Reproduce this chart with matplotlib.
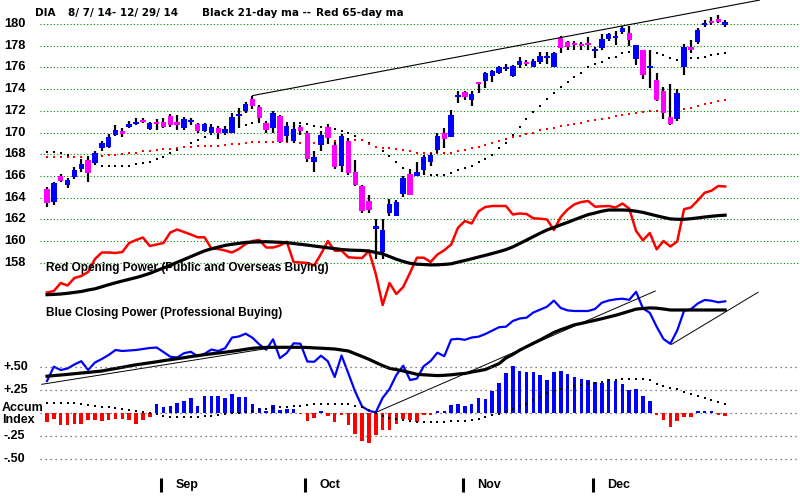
import matplotlib
matplotlib.use('Agg')
import matplotlib.pyplot as plt
import numpy as np

# ---------------- data ----------------
opens = [164.8, 163.6, 165.95, 165.2, 165.9, 166.6, 167.5, 167.2, 168.55, 168.7,
         169.8, 170.1, 170.55, 170.8, 171.15, 170.35, 170.95, 171.0, 171.5, 170.95,
         170.45, 171.05, 170.8, 170.15, 170.0, 170.45, 170.0, 169.95, 171.55, 172.0,
         173.1, 172.35, 170.85, 170.4, 171.5, 169.7, 169.2, 170.5, 170.0, 167.3,
         168.85, 170.55, 168.85, 166.9, 169.25, 166.4, 165.1, 163.7, 161.2, 159.0,
         162.6, 162.3, 164.35, 166.2, 166.0, 166.55, 167.25, 168.4, 170.0, 169.6,
         173.35, 173.7, 173.0, 174.65, 174.75, 175.2, 175.5, 175.95, 175.2, 176.2,
         176.4, 176.05, 176.5, 176.9, 176.05, 178.7, 178.3, 178.2, 178.1, 178.2,
         177.55, 177.75, 178.6, 178.8, 179.3, 179.15, 176.75, 177.6, 176.0, 174.85,
         173.85, 171.4, 171.2, 176.0, 177.85, 178.3, 179.95, 180.3, 180.5, 179.9]
closes = [163.5, 165.3, 165.5, 165.6, 166.5, 167.1, 166.3, 168.1, 169.0, 169.6,
          170.25, 169.85, 170.75, 171.0, 171.0, 170.85, 170.85, 170.55, 170.7, 170.65,
          171.2, 171.1, 170.1, 170.75, 170.5, 169.95, 170.3, 171.4, 171.65, 172.6,
          172.45, 171.3, 170.2, 171.8, 169.15, 170.6, 170.3, 170.1, 167.55, 167.7,
          169.8, 169.5, 166.85, 169.7, 166.3, 165.2, 162.8, 162.9, 161.3, 161.0,
          163.4, 163.6, 165.8, 164.25, 166.4, 167.7, 167.95, 169.7, 169.4, 171.6,
          173.4, 173.3, 173.55, 174.55, 175.45, 175.65, 176.0, 176.0, 176.15, 176.55,
          176.35, 176.6, 177.05, 176.95, 177.35, 177.75, 177.85, 178.1, 178.05, 178.1,
          177.6, 178.6, 179.1, 178.85, 179.6, 178.5, 178.1, 175.3, 176.05, 173.0,
          171.8, 170.8, 173.6, 177.85, 177.6, 179.45, 180.05, 180.05, 180.2, 180.2]
highs = [165.0, 165.4, 166.2, 165.8, 166.8, 167.4, 167.8, 168.3, 169.2, 169.9,
         170.7, 170.4, 171.1, 171.3, 171.3, 171.0, 171.2, 171.3, 171.7, 171.6,
         171.4, 171.3, 170.9, 170.9, 170.8, 170.6, 170.6, 171.8, 172.25, 172.85,
         173.4, 172.5, 171.0, 171.95, 171.6, 170.8, 170.9, 170.65, 170.1, 168.25,
         170.1, 170.8, 169.1, 169.9, 169.5, 167.5, 165.2, 164.2, 162.0, 162.0,
         163.9, 163.8, 166.0, 166.5, 167.3, 167.9, 168.1, 169.95, 170.4, 172.1,
         173.8, 173.85, 173.8, 174.7, 175.55, 175.75, 176.15, 176.3, 176.2, 177.0,
         176.7, 176.75, 177.4, 177.4, 177.45, 178.85, 178.4, 178.4, 178.3, 178.8,
         177.9, 179.1, 179.2, 179.4, 179.85, 179.85, 178.1, 177.6, 177.6, 175.5,
         174.2, 174.5, 174.0, 178.2, 178.5, 179.6, 180.4, 180.6, 180.8, 180.35]
lows = [163.1, 163.3, 165.4, 164.9, 165.7, 166.4, 165.4, 167.0, 168.3, 168.6,
        169.7, 169.6, 170.4, 170.7, 170.85, 170.2, 170.2, 170.4, 170.5, 170.25,
        170.25, 170.7, 170.0, 170.05, 169.9, 169.4, 169.8, 169.95, 170.4, 171.8,
        172.2, 171.0, 170.0, 170.0, 169.0, 169.15, 169.0, 169.8, 167.3, 166.4,
        168.3, 168.9, 166.6, 166.4, 166.1, 165.1, 162.6, 162.6, 158.3, 158.3,
        162.3, 162.3, 164.1, 164.2, 166.0, 166.1, 166.9, 168.1, 168.6, 169.6,
        172.75, 172.95, 172.4, 173.6, 174.1, 174.7, 175.4, 175.7, 175.1, 175.9,
        176.1, 176.05, 176.3, 176.3, 176.05, 177.3, 177.6, 177.6, 177.6, 177.6,
        176.9, 177.6, 178.4, 178.1, 179.1, 178.0, 176.2, 174.9, 174.1, 172.9,
        171.2, 170.7, 171.1, 175.3, 177.3, 178.2, 179.7, 179.9, 180.1, 179.75]

ma21 = [168.24, 168.2, 168.1, 167.9, 167.7, 167.5, 167.3, 167.1, 166.95, 166.92,
        166.9, 166.9, 166.92, 167.11, 167.23, 167.32, 167.57, 167.78, 168.09, 168.4,
        168.7, 169.07, 169.32, 169.62, 169.85, 170.05, 170.25, 170.42, 170.55, 170.7,
        170.85, 170.95, 171.0, 171.0, 170.95, 170.9, 170.85, 170.85, 170.8, 170.6,
        170.5, 170.4, 170.3, 170.15, 169.95, 169.7, 169.35, 169.05, 168.7, 168.3,
        167.8, 167.25, 166.75, 166.55, 166.3, 166.15, 166.1, 166.1, 166.1, 166.3,
        166.55, 166.7, 166.92, 167.3, 167.55, 167.95, 168.55, 169.0, 169.8, 170.5,
        171.25, 171.85, 172.45, 173.07, 173.68, 174.17, 174.69, 175.15, 175.52, 176.01,
        176.29, 176.53, 176.84, 176.99, 177.3, 177.45, 177.5, 177.5, 177.45, 177.36,
        177.15, 176.9, 176.69, 176.75, 176.84, 176.9, 176.99, 177.15, 177.24, 177.36]
ma65 = [167.7, 167.7, 167.7, 167.7, 167.72, 167.75, 167.78, 167.82, 167.85, 167.9,
        167.95, 168.0, 168.08, 168.15, 168.25, 168.33, 168.4, 168.46, 168.52, 168.58,
        168.64, 168.68, 168.72, 168.75, 168.78, 168.8, 168.85, 168.9, 168.98, 169.05,
        169.08, 169.1, 169.1, 169.1, 169.1, 169.1, 169.08, 169.05, 169.02, 169.05,
        169.15, 169.2, 169.25, 169.28, 169.3, 169.32, 169.3, 168.95, 168.65, 168.6,
        168.55, 168.45, 168.35, 168.25, 168.15, 168.12, 168.1, 168.1, 168.1, 168.15,
        168.25, 168.4, 168.55, 168.7, 168.86, 169.0, 169.25, 169.38, 169.55, 169.7,
        169.85, 170.0, 170.2, 170.3, 170.45, 170.58, 170.7, 170.8, 170.9, 171.02,
        171.15, 171.25, 171.37, 171.5, 171.6, 171.7, 171.78, 171.88, 172.0, 172.02,
        172.04, 172.06, 172.08, 172.15, 172.3, 172.45, 172.6, 172.75, 172.88, 173.0]

# price resistance trendline (day index, price)
price_trend_days = [30, 104]
price_trend_vals = [173.4, 182.2]

# Red Opening Power and its moving average (indicator units)
open_power = [7.5, 9, 17, 14.5, 22, 24, 28, 41, 47.5, 47.5,
              47, 48, 57, 60, 62.5, 54, 55.5, 57, 67.5, 70.5,
              68, 65.5, 62.7, 62.7, 51.5, 51, 49.5, 47.5, 51, 56,
              59, 60, 52.5, 52.5, 54.5, 58.3, 38, 37.5, 37, 34.5,
              46, 59, 49.3, 49.3, 42.7, 42.2, 42, 49, 26, -5,
              17, 6, 13, 27.3, 42.3, 42.3, 38, 45.5, 49.8, 55.5,
              72.3, 79, 76.5, 88.7, 93, 94, 94, 94, 85.5, 86.5,
              86, 81.7, 81.3, 80.5, 70, 83, 90.5, 95.7, 98, 99,
              93.3, 93.7, 94, 92.5, 96.5, 91.4, 69, 59.7, 67, 50.7,
              59, 53.5, 58.5, 90.8, 92.5, 99.5, 107.2, 109.3, 114, 113.5]
open_power_ma = [5.3, 5.6, 6, 6.7, 7.6, 8.5, 10, 11.2, 13.2, 15.3,
                 17.2, 19, 20.7, 22.4, 24.4, 26.6, 29.4, 32, 34.8, 37.7,
                 40.5, 43.4, 46.3, 49.1, 51.2, 52.9, 54.6, 55.7, 56.6, 57.6,
                 57.9, 58.1, 58.3, 58, 57.7, 57.3, 56.5, 55.7, 54.9, 54,
                 53.1, 52.2, 51.4, 50.5, 50, 49.7, 49.5, 49, 47.5, 46.1,
                 43.5, 40.8, 38.5, 36.7, 35.8, 35.5, 35.1, 35.2, 35.6, 36.2,
                 37.9, 39.5, 41.2, 43, 44.7, 46.5, 48.4, 50.4, 53.1, 56.5,
                 59.9, 63.4, 66.8, 70.1, 72.5, 75.2, 77.6, 80.3, 82.9, 85.4,
                 87, 88.8, 90, 90, 90, 89.7, 88.8, 87.6, 85.9, 84.2,
                 82.6, 81.1, 80.7, 80.7, 81.3, 82.1, 83, 83.7, 84.4, 84.8]

# Blue Closing Power and its moving average (indicator units)
close_power = [39, 53.3, 50, 51.5, 55.5, 58.8, 50, 57.5, 61, 65,
               70, 69, 69.5, 70, 71, 72, 72.5, 68, 63.3, 62.5,
               66.8, 68.2, 63.7, 66.2, 70.5, 69, 71.8, 82.4, 83.5, 86.3,
               82.2, 75.6, 70.3, 80.7, 61.8, 67, 76.7, 76.3, 58.5, 58.2,
               64.3, 58.7, 43, 64.5, 46.5, 28.2, 13.5, 9.2, 7.7, 22.1,
               31, 45, 54.3, 40, 41.4, 53.8, 59, 67.3, 63.8, 80.5,
               81.2, 80.2, 82.5, 83.3, 86, 89.4, 92.8, 93.3, 99, 101.5,
               102.3, 107.5, 110.4, 113.3, 119.4, 112, 109.6, 109, 109, 109,
               111, 117.3, 119.5, 120.7, 121.3, 120.2, 128.2, 111.6, 107.2, 93.3,
               81, 76.2, 89.5, 109.2, 110.8, 116.5, 120, 119.3, 117.7, 118.7]
close_power_ma = [43.8, 44.4, 45, 45.6, 46.3, 47, 47.6, 48.3, 49, 50.3,
                  51.5, 52.7, 54, 55.2, 56.2, 57.2, 58.2, 59.3, 60.3, 61.3,
                  62.3, 63.4, 64.4, 65.3, 66.2, 67, 67.8, 68.7, 69.6, 70.7,
                  71.7, 72.2, 72.6, 72.7, 72.7, 72.7, 72.7, 72.7, 72.5, 72.1,
                  71.8, 71.4, 71, 70, 69, 66.2, 63.5, 60.7, 57.5, 54.4,
                  51.7, 50.4, 49, 47.4, 45.7, 45.2, 44.8, 44.4, 44.7, 45.2,
                  46, 46.5, 48, 49.2, 50.5, 53.4, 56.4, 62, 65.6, 69.8,
                  73.3, 76.7, 80.1, 83.8, 87.5, 90.3, 92.7, 95.2, 96.6, 98.2,
                  99.7, 101.3, 103, 104.7, 106.7, 108.8, 110.9, 111.5, 112.1, 111.8,
                  111, 110, 110, 110, 110, 110, 110, 110, 110, 110]
# closing power trendlines: (start day, start value, end day, end value)
cp_trend_lines = [(-0.77, 35.7, 32.3, 71.7),
                  (47.9, 7.3, 88.8, 129.0),
                  (91.2, 75.7, 103.8, 127.7)]

# Accumulation Index and its moving average
accum = [-0.098, -0.06, -0.13, -0.13, -0.12, -0.12, -0.08, -0.08, -0.09, -0.08,
         -0.06, -0.06, -0.08, -0.12, -0.08, -0.045, 0.10, 0.065, 0.076, 0.11,
         0.13, 0.16, 0.076, 0.185, 0.19, 0.185, 0.16, 0.21, 0.17, 0.17,
         0.10, 0.054, 0.025, 0.083, 0.03, 0.04, 0.04, -0.01, -0.09, -0.05,
         0.02, -0.033, -0.098, -0.02, -0.134, -0.225, -0.30, -0.33, -0.24, -0.18,
         -0.18, -0.116, -0.06, -0.08, -0.098, -0.025, -0.025, 0.02, 0.02, 0.09,
         0.10, 0.076, 0.10, 0.163, 0.15, 0.235, 0.33, 0.43, 0.51, 0.46,
         0.45, 0.45, 0.41, 0.36, 0.45, 0.46, 0.42, 0.39, 0.37, 0.36,
         0.34, 0.33, 0.37, 0.35, 0.31, 0.25, 0.26, 0.18, 0.127, -0.025,
         -0.08, -0.15, -0.09, -0.045, -0.045, 0.02, 0.02, 0.02, -0.025, -0.03]
accum_ma = [0.11, 0.11, 0.11, 0.11, 0.11, 0.10, 0.09, 0.08, 0.07, 0.06,
            0.05, 0.04, 0.03, 0.02, 0.01, 0.0, -0.01, -0.03, -0.04, -0.04,
            -0.045, -0.045, -0.04, -0.035, -0.03, -0.02, -0.01, 0.0, 0.0, 0.01,
            0.02, 0.03, 0.04, 0.05, 0.06, 0.07, 0.075, 0.08, 0.09, 0.1,
            0.1, 0.1, 0.1, 0.1, 0.1, 0.08, 0.06, 0.03, 0.0, -0.03,
            -0.05, -0.07, -0.08, -0.09, -0.095, -0.098, -0.098, -0.098, -0.095, -0.09,
            -0.088, -0.085, -0.08, -0.062, -0.043, -0.025, -0.007, 0.018, 0.047, 0.076,
            0.1, 0.138, 0.174, 0.22, 0.235, 0.257, 0.28, 0.293, 0.308, 0.319,
            0.33, 0.337, 0.355, 0.362, 0.366, 0.373, 0.366, 0.366, 0.355, 0.319,
            0.293, 0.272, 0.257, 0.228, 0.21, 0.185, 0.163, 0.138, 0.12, 0.10]

price_grid = [180, 178, 176, 174, 172, 170, 168, 166, 164, 162, 160, 158]
accum_grid = [0.5, 0.25, 0.0, -0.25, -0.5]
accum_grid_labels = {0.5: '+.50', 0.25: '+.25', -0.25: '-.25', -0.5: '-.50'}
month_labels = ['Sep', 'Oct', 'Nov', 'Dec']
month_start_idx = [17, 38, 61, 80]

# ---------------- drawing ----------------
W, H = 800, 500
fig = plt.figure(figsize=(8, 5), dpi=100)
fig.patch.set_facecolor('white')

XLIM = (-6.861, 109.927)


def make_ax(ylim):
    ax = fig.add_axes([0, 0, 1, 1])
    ax.set_xlim(*XLIM)
    ax.set_ylim(*ylim)
    ax.axis('off')
    ax.patch.set_alpha(0)
    return ax


ax_p = make_ax((136.129, 182.212))
ax_op = make_ax((-200, 300))
ax_cp = make_ax((-80, 420))
ax_ac = make_ax((-0.9457, 4.489))

BOLD = dict(family='Liberation Sans', weight='bold')
days = np.arange(len(opens))
o = np.array(opens); c = np.array(closes)

# price grid
ytr = ax_p.get_yaxis_transform()
for g in price_grid:
    ax_p.plot([40 / W, 1.0], [g, g], transform=ytr, color='#008000', lw=0.8,
              linestyle=(0, (1, 2)), zorder=1)
    ax_p.text(26 / W, g, str(g), transform=ytr, ha='right', va='center',
              fontsize=9.3, color='black', **BOLD)

# moving-average dots
ax_p.plot(days, ma21, 's', color='black', ms=1.6, mew=0, zorder=2)
ax_p.plot(days, ma65, 's', color='#FF0000', ms=1.6, mew=0, zorder=2)

# candles
ax_p.vlines(days, lows, highs, color='black', lw=1.6, zorder=3)
diff = np.abs(c - o)
hgt = np.maximum(diff, 0.2)
bot = np.minimum(o, c) - (hgt - diff) / 2
cols = ['#0000FF' if cc >= oo else '#FF00FF' for oo, cc in zip(o, c)]
ax_p.bar(days, hgt, bottom=bot, width=0.8, color=cols, lw=0, zorder=4)

ax_p.plot(price_trend_days, price_trend_vals, color='black', lw=0.8, zorder=5)

# Opening power
ax_op.plot(days, open_power, color='#FF0000', lw=1.8, zorder=3)
ax_op.plot(days, open_power_ma, color='black', lw=2.3, zorder=4)

# Closing power
ax_cp.plot(days, close_power, color='#0000FF', lw=1.6, zorder=3)
ax_cp.plot(days, close_power_ma, color='black', lw=2.3, zorder=4)
for d0, v0, d1, v1 in cp_trend_lines:
    ax_cp.plot([d0, d1], [v0, v1], color='black', lw=0.7, zorder=5)

# Accumulation index
ytr_a = ax_ac.get_yaxis_transform()
for g in accum_grid:
    ax_ac.plot([40 / W, 1.0], [g, g], transform=ytr_a, color='#555555', lw=0.9,
               linestyle=(0, (1, 3)), zorder=1)
    if g in accum_grid_labels:
        ax_ac.text(3 / W, g, accum_grid_labels[g], transform=ytr_a, ha='left',
                   va='center', fontsize=9, color='black', **BOLD)
acols = ['#0000FF' if a > 0 else '#FF0000' for a in accum]
ax_ac.bar(days, accum, width=0.52, color=acols, lw=0, zorder=3)
ax_ac.plot(days, accum_ma, 's', color='black', ms=1.6, mew=0, zorder=4)

# month ticks
for lab, idx in zip(month_labels, month_start_idx):
    ax_ac.vlines(idx - 0.33, -0.859, -0.706, color='black', lw=2.2)
    ax_ac.text(idx + 1.75, -0.783, lab, ha='left', va='center', fontsize=9,
               color='black', **BOLD)

# texts
def ftext(x, y, s, **kw):
    fig.text(x / W, 1 - y / H, s, va='center', ha='left', color='black', **kw)

TBOLD = dict(family='DejaVu Sans', weight='bold', fontsize=7.5)
ftext(35, 13, 'DIA', **TBOLD)
ftext(68, 13, '8/ 7/ 14- 12/ 29/ 14', **TBOLD)
ftext(202, 13, 'Black 21-day ma --', **TBOLD)
ftext(316, 13, 'Red 65-day ma', **TBOLD)

ftext(46, 268, 'Red Opening Power (Public and Overseas Buying)', fontsize=8.5, **BOLD)
ftext(46, 313, 'Blue Closing Power (Professional Buying)', fontsize=8.5, **BOLD)
ftext(2, 408, 'Accum', fontsize=9, **BOLD)
ftext(2, 420, 'Index', fontsize=9, **BOLD)

fig.savefig('out.png', dpi=100, facecolor='white')
